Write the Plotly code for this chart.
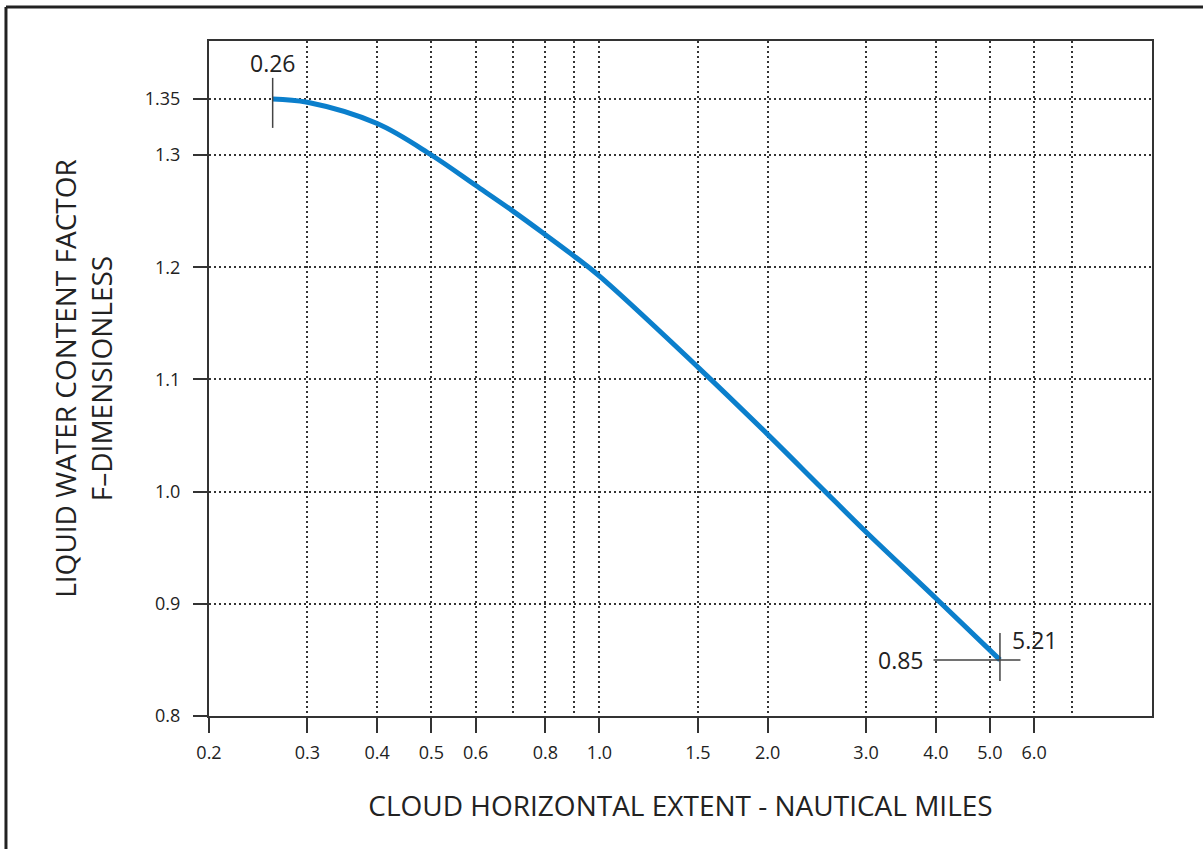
import math
import plotly.graph_objects as go

# curve
extent_nm = [0.26, 0.3, 0.4, 0.5, 0.6, 0.7, 0.8, 0.9, 1.0, 1.5, 2.0, 2.5, 3.0, 4.0, 5.21]
lwc_factor = [1.35, 1.347, 1.328, 1.300, 1.273, 1.250, 1.229, 1.210, 1.192, 1.111, 1.051, 1.003, 0.964, 0.905, 0.85]

x_ticks = [0.2, 0.3, 0.4, 0.5, 0.6, 0.8, 1.0, 1.5, 2.0, 3.0, 4.0, 5.0, 6.0]
x_labels = ["0.2", "0.3", "0.4", "0.5", "0.6", "0.8", "1.0", "1.5", "2.0", "3.0", "4.0", "5.0", "6.0"]
x_extra_grid = [0.7, 0.9, 7.0]
y_ticks = [0.8, 0.9, 1.0, 1.1, 1.2, 1.3, 1.35]
y_labels = ["0.8", "0.9", "1.0", "1.1", "1.2", "1.3", "1.35"]

FONT = "Open Sans"
INK = "#333333"
TXT = "#222222"

fig = go.Figure()
fig.add_trace(go.Scatter(x=extent_nm, y=lwc_factor, mode="lines",
                         line=dict(color="#0b7fcc", width=5, shape="spline", smoothing=1.0),
                         showlegend=False, hoverinfo="x+y"))

x0, y0 = extent_nm[0], lwc_factor[0]
x1, y1 = extent_nm[-1], lwc_factor[-1]
mark = dict(color="#444444", width=1.5)
# small reference marks at both ends of the curve
fig.add_shape(type="line", xref="x", yref="y", x0=x0, x1=x0, ysizemode="pixel",
              yanchor=y0, y0=-29, y1=21, line=mark)
fig.add_shape(type="line", xref="x", yref="y", x0=x1, x1=x1, ysizemode="pixel",
              yanchor=y1, y0=-21, y1=27, line=mark)
# horizontal mark at the end point (arrow-less annotation lines, log axis -> log10 x)
for dx in (-68, 22):
    fig.add_annotation(x=math.log10(x1), y=y1, text="", showarrow=True, arrowhead=0,
                       arrowwidth=1.5, arrowcolor="#444444", ax=dx, ay=0, standoff=0, startstandoff=0)

fig.add_annotation(x=math.log10(x0), y=y0, text=f"{x0:.2f}", showarrow=False, yshift=36,
                   font=dict(family=FONT, size=23, color=TXT))
fig.add_annotation(x=math.log10(x1), y=y1, text=f"{x1:.2f}", showarrow=False, xanchor="left",
                   xshift=10, yshift=20, font=dict(family=FONT, size=23, color=TXT))
fig.add_annotation(x=math.log10(x1), y=y1, text=f"{y1:.2f}", showarrow=False, xanchor="right",
                   xshift=-74, yshift=0, font=dict(family=FONT, size=23, color=TXT))

# outer frame (left and top edges)
fig.add_shape(type="line", xref="paper", yref="paper", x0=-0.2153, x1=-0.2153, y0=-0.25, y1=1.0504,
              line=dict(color="#222", width=3))
fig.add_shape(type="line", xref="paper", yref="paper", x0=-0.2153, x1=1.06, y0=1.0504, y1=1.0504,
              line=dict(color="#222", width=3))

fig.update_xaxes(type="log", range=[math.log10(0.2), 0.989],
                 tickvals=x_ticks, ticktext=x_labels,
                 ticks="outside", ticklen=15, tickwidth=1.5, tickcolor=INK, ticklabelstandoff=4,
                 showline=True, linecolor=INK, linewidth=2, mirror=True,
                 showgrid=True, gridcolor=INK, gridwidth=1.5, griddash="2px,3px",
                 minor=dict(tickvals=x_extra_grid, showgrid=True, gridcolor=INK, gridwidth=1.5,
                            griddash="2px,3px", ticks=""),
                 tickfont=dict(family=FONT, size=18, color=TXT),
                 title=dict(text="CLOUD HORIZONTAL EXTENT - NAUTICAL MILES", standoff=34,
                            font=dict(family=FONT, size=28, color=TXT)),
                 zeroline=False)
fig.update_yaxes(range=[0.8, 1.4016],
                 tickvals=y_ticks, ticktext=y_labels,
                 ticks="outside", ticklen=14, tickwidth=1.5, tickcolor=INK, ticklabelstandoff=9,
                 showline=True, linecolor=INK, linewidth=2, mirror=True,
                 showgrid=True, gridcolor=INK, gridwidth=1.5, griddash="2px,3px",
                 tickfont=dict(family=FONT, size=18, color=TXT),
                 title=dict(text="LIQUID WATER CONTENT FACTOR<br>F\u2013DIMENSIONLESS", standoff=24,
                            font=dict(family=FONT, size=28, color=TXT)),
                 zeroline=False)

fig.update_layout(width=1203, height=849,
                  margin=dict(l=209, r=51, t=41, b=133),
                  paper_bgcolor="white", plot_bgcolor="white")

fig.write_html("out.html", config={"displayModeBar": False},
               post_script="document.body.style.margin='0';")
